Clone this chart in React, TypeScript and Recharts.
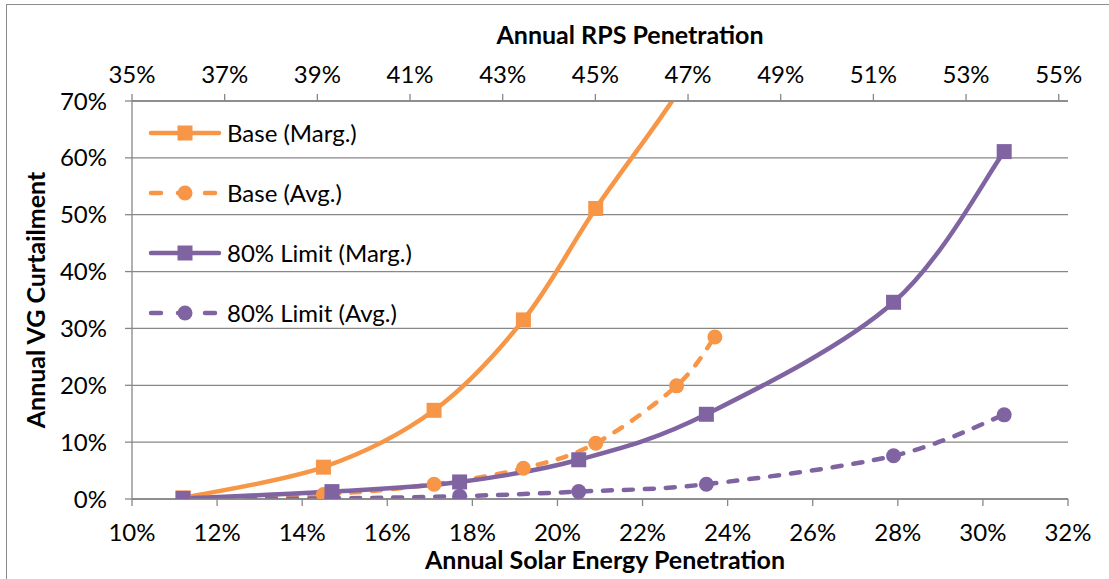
import React from 'react';
import { LineChart, Line, XAxis, YAxis, CartesianGrid, Legend, Label } from 'recharts';

// ---- data (percent values) ----
const baseMargX = [11.2, 14.5, 17.1, 19.2, 20.9, 22.8, 23.7];
const baseMargY = [0.2, 5.6, 15.6, 31.5, 51.1, 71.2, 84];
const baseAvgX = [11.2, 14.5, 17.1, 19.2, 20.9, 22.8, 23.7];
const baseAvgY = [0, 0.8, 2.6, 5.4, 9.8, 19.9, 28.5];
const limitMargX = [11.2, 14.7, 17.7, 20.5, 23.5, 27.9, 30.5];
const limitMargY = [0.1, 1.3, 3.0, 6.9, 14.9, 34.6, 61.1];
const limitAvgX = [11.2, 14.7, 17.7, 20.5, 23.5, 27.9, 30.5];
const limitAvgY = [0, 0.1, 0.5, 1.3, 2.6, 7.6, 14.8];

const seriesNames = ['Base (Marg.)', 'Base (Avg.)', '80% Limit (Marg.)', '80% Limit (Avg.)'];
const solarTicks = [10, 12, 14, 16, 18, 20, 22, 24, 26, 28, 30, 32];
const rpsTicks = [35, 37, 39, 41, 43, 45, 47, 49, 51, 53, 55];
const rpsDomain = [35, 55.2];
const curtailTicks = [0, 10, 20, 30, 40, 50, 60, 70];

const xTitle = 'Annual Solar Energy Penetration';
const topTitle = 'Annual RPS Penetration';
const yTitle = 'Annual VG Curtailment';

const ORANGE = '#F79646';
const PURPLE = '#8064A2';
const GRID = '#878787';
const FONT = 'Lato, "Open Sans", sans-serif';
const FS = 24;
const TFS = 25;
const LW = 4.5;
const Y_MAX = 70;

const toPoints = (xs: number[], ys: number[]) => xs.map((x, i) => ({ x, y: ys[i] }));
const baseMarg = toPoints(baseMargX, baseMargY);
const baseAvg = toPoints(baseAvgX, baseAvgY);
const limitMarg = toPoints(limitMargX, limitMargY);
const limitAvg = toPoints(limitAvgX, limitAvgY);
// invisible helper so the secondary (RPS) axis is laid out
const rpsAnchor = [{ r: rpsTicks[0], y: 0 }, { r: rpsTicks[rpsTicks.length - 1], y: 0 }];

// Excel-like smoothed line (Catmull-Rom through the points)
const excelSmooth: any = (context: any) => {
  let pts: number[][] = [];
  return {
    areaStart() {},
    areaEnd() {},
    lineStart() {
      pts = [];
    },
    point(x: number, y: number) {
      pts.push([+x, +y]);
    },
    lineEnd() {
      const n = pts.length;
      if (!n) return;
      context.moveTo(pts[0][0], pts[0][1]);
      for (let i = 0; i < n - 1; i++) {
        const p0 = pts[i - 1] || pts[i];
        const p1 = pts[i];
        const p2 = pts[i + 1];
        const p3 = pts[i + 2] || p2;
        context.bezierCurveTo(
          p1[0] + (p2[0] - p0[0]) / 6,
          p1[1] + (p2[1] - p0[1]) / 6,
          p2[0] - (p3[0] - p1[0]) / 6,
          p2[1] - (p3[1] - p1[1]) / 6,
          p2[0],
          p2[1]
        );
      }
    },
  };
};

const seriesStyles = [
  { color: ORANGE, dashed: false, shape: 'square' },
  { color: ORANGE, dashed: true, shape: 'circle' },
  { color: PURPLE, dashed: false, shape: 'square' },
  { color: PURPLE, dashed: true, shape: 'circle' },
];

const makeDot = (shape: string, color: string) => (props: any) => {
  const { cx, cy, value, index } = props;
  if (cx == null || cy == null || value > Y_MAX) return <g key={`d-${index}`} />;
  if (shape === 'square') {
    return <rect key={`d-${index}`} x={cx - 7.5} y={cy - 7.5} width={15} height={15} fill={color} />;
  }
  return <circle key={`d-${index}`} cx={cx} cy={cy} r={7.5} fill={color} />;
};

const renderLegend = () => (
  <div style={{ fontFamily: FONT, fontSize: FS, color: '#000' }}>
    {seriesNames.map((name, i) => {
      const s = seriesStyles[i];
      return (
        <div key={name} style={{ display: 'flex', alignItems: 'center', height: 60 }}>
          <svg width={74} height={20} style={{ display: 'block' }}>
            <line
              x1={3}
              y1={10}
              x2={71}
              y2={10}
              stroke={s.color}
              strokeWidth={LW}
              strokeLinecap="round"
              strokeDasharray={s.dashed ? '10 17' : undefined}
            />
            {s.shape === 'square' ? (
              <rect x={29.5} y={2.5} width={15} height={15} fill={s.color} />
            ) : (
              <circle cx={37} cy={10} r={7.5} fill={s.color} />
            )}
          </svg>
          <span style={{ marginLeft: 5, lineHeight: 1 }}>{name}</span>
        </div>
      );
    })}
  </div>
);

const tickStyle = { fill: '#000', fontSize: FS, fontFamily: FONT };
const titleStyle = { fontFamily: FONT, fontSize: TFS, fontWeight: 700, fill: '#000' };

export default function App() {
  return (
    <div style={{ position: 'absolute', left: 0, top: 0, width: 1109, height: 579, background: '#fff', overflow: 'hidden' }}>
      <div
        style={{
          position: 'absolute',
          left: 6,
          top: 4,
          width: 1200,
          height: 700,
          borderLeft: '1.5px solid #8c8c8c',
          borderTop: '1.5px solid #8c8c8c',
        }}
      />
      <div style={{ position: 'absolute', left: 0, top: 0 }}>
        <LineChart width={1109} height={579} margin={{ top: 0, right: 41, bottom: 0, left: 0 }}>
          <CartesianGrid horizontal vertical={false} stroke={GRID} strokeWidth={1.3} xAxisId="bottom" yAxisId="left" />
          <XAxis
            xAxisId="bottom"
            dataKey="x"
            type="number"
            domain={[10, 32]}
            ticks={solarTicks}
            allowDataOverflow
            height={80}
            tickSize={7}
            tickMargin={18}
            tickFormatter={(v: number) => `${v}%`}
            tick={tickStyle}
            stroke={GRID}
            strokeWidth={1.3}
            interval={0}
          >
            <Label value={xTitle} position="insideBottom" offset={10} dx={5} style={titleStyle} />
          </XAxis>
          <XAxis
            xAxisId="top"
            orientation="top"
            dataKey="r"
            type="number"
            domain={rpsDomain}
            ticks={rpsTicks}
            allowDataOverflow
            height={101}
            tickSize={7}
            tickMargin={11}
            tickFormatter={(v: number) => `${v}%`}
            tick={tickStyle}
            stroke={GRID}
            strokeWidth={1.3}
            interval={0}
          >
            <Label value={topTitle} position="insideTop" offset={26} dx={30} style={titleStyle} />
          </XAxis>
          <YAxis
            yAxisId="left"
            type="number"
            domain={[0, Y_MAX]}
            ticks={curtailTicks}
            allowDataOverflow
            width={132}
            tickSize={7}
            tickMargin={18}
            tickFormatter={(v: number) => `${v}%`}
            tick={tickStyle}
            stroke={GRID}
            strokeWidth={1.3}
            interval={0}
          >
            <Label
              content={(p: any) => {
                const vb = p.viewBox || { x: 0, y: 101, width: 132, height: 398 };
                const cx = vb.x + 35;
                const cy = vb.y + vb.height / 2;
                return (
                  <text
                    x={cx}
                    y={cy}
                    transform={`rotate(-90, ${cx}, ${cy})`}
                    textAnchor="middle"
                    dominantBaseline="central"
                    style={titleStyle}
                  >
                    {yTitle}
                  </text>
                );
              }}
            />
          </YAxis>
          <Legend
            layout="vertical"
            verticalAlign="middle"
            align="center"
            wrapperStyle={{ left: 148, top: 103, width: 290 }}
            content={renderLegend}
          />
          <Line
            data={rpsAnchor}
            dataKey="y"
            xAxisId="top"
            yAxisId="left"
            stroke="none"
            dot={false}
            activeDot={false}
            legendType="none"
            isAnimationActive={false}
          />
          <Line
            name={seriesNames[0]}
            data={baseMarg}
            dataKey="y"
            xAxisId="bottom"
            yAxisId="left"
            type={excelSmooth}
            stroke={ORANGE}
            strokeWidth={LW}
            dot={makeDot('square', ORANGE)}
            activeDot={false}
            isAnimationActive={false}
          />
          <Line
            name={seriesNames[1]}
            data={baseAvg}
            dataKey="y"
            xAxisId="bottom"
            yAxisId="left"
            type={excelSmooth}
            stroke={ORANGE}
            strokeWidth={LW}
            strokeDasharray="9 12"
            strokeLinecap="round"
            dot={makeDot('circle', ORANGE)}
            activeDot={false}
            isAnimationActive={false}
          />
          <Line
            name={seriesNames[2]}
            data={limitMarg}
            dataKey="y"
            xAxisId="bottom"
            yAxisId="left"
            type={excelSmooth}
            stroke={PURPLE}
            strokeWidth={LW}
            dot={makeDot('square', PURPLE)}
            activeDot={false}
            isAnimationActive={false}
          />
          <Line
            name={seriesNames[3]}
            data={limitAvg}
            dataKey="y"
            xAxisId="bottom"
            yAxisId="left"
            type={excelSmooth}
            stroke={PURPLE}
            strokeWidth={LW}
            strokeDasharray="9 12"
            strokeLinecap="round"
            dot={makeDot('circle', PURPLE)}
            activeDot={false}
            isAnimationActive={false}
          />
        </LineChart>
      </div>
    </div>
  );
}
